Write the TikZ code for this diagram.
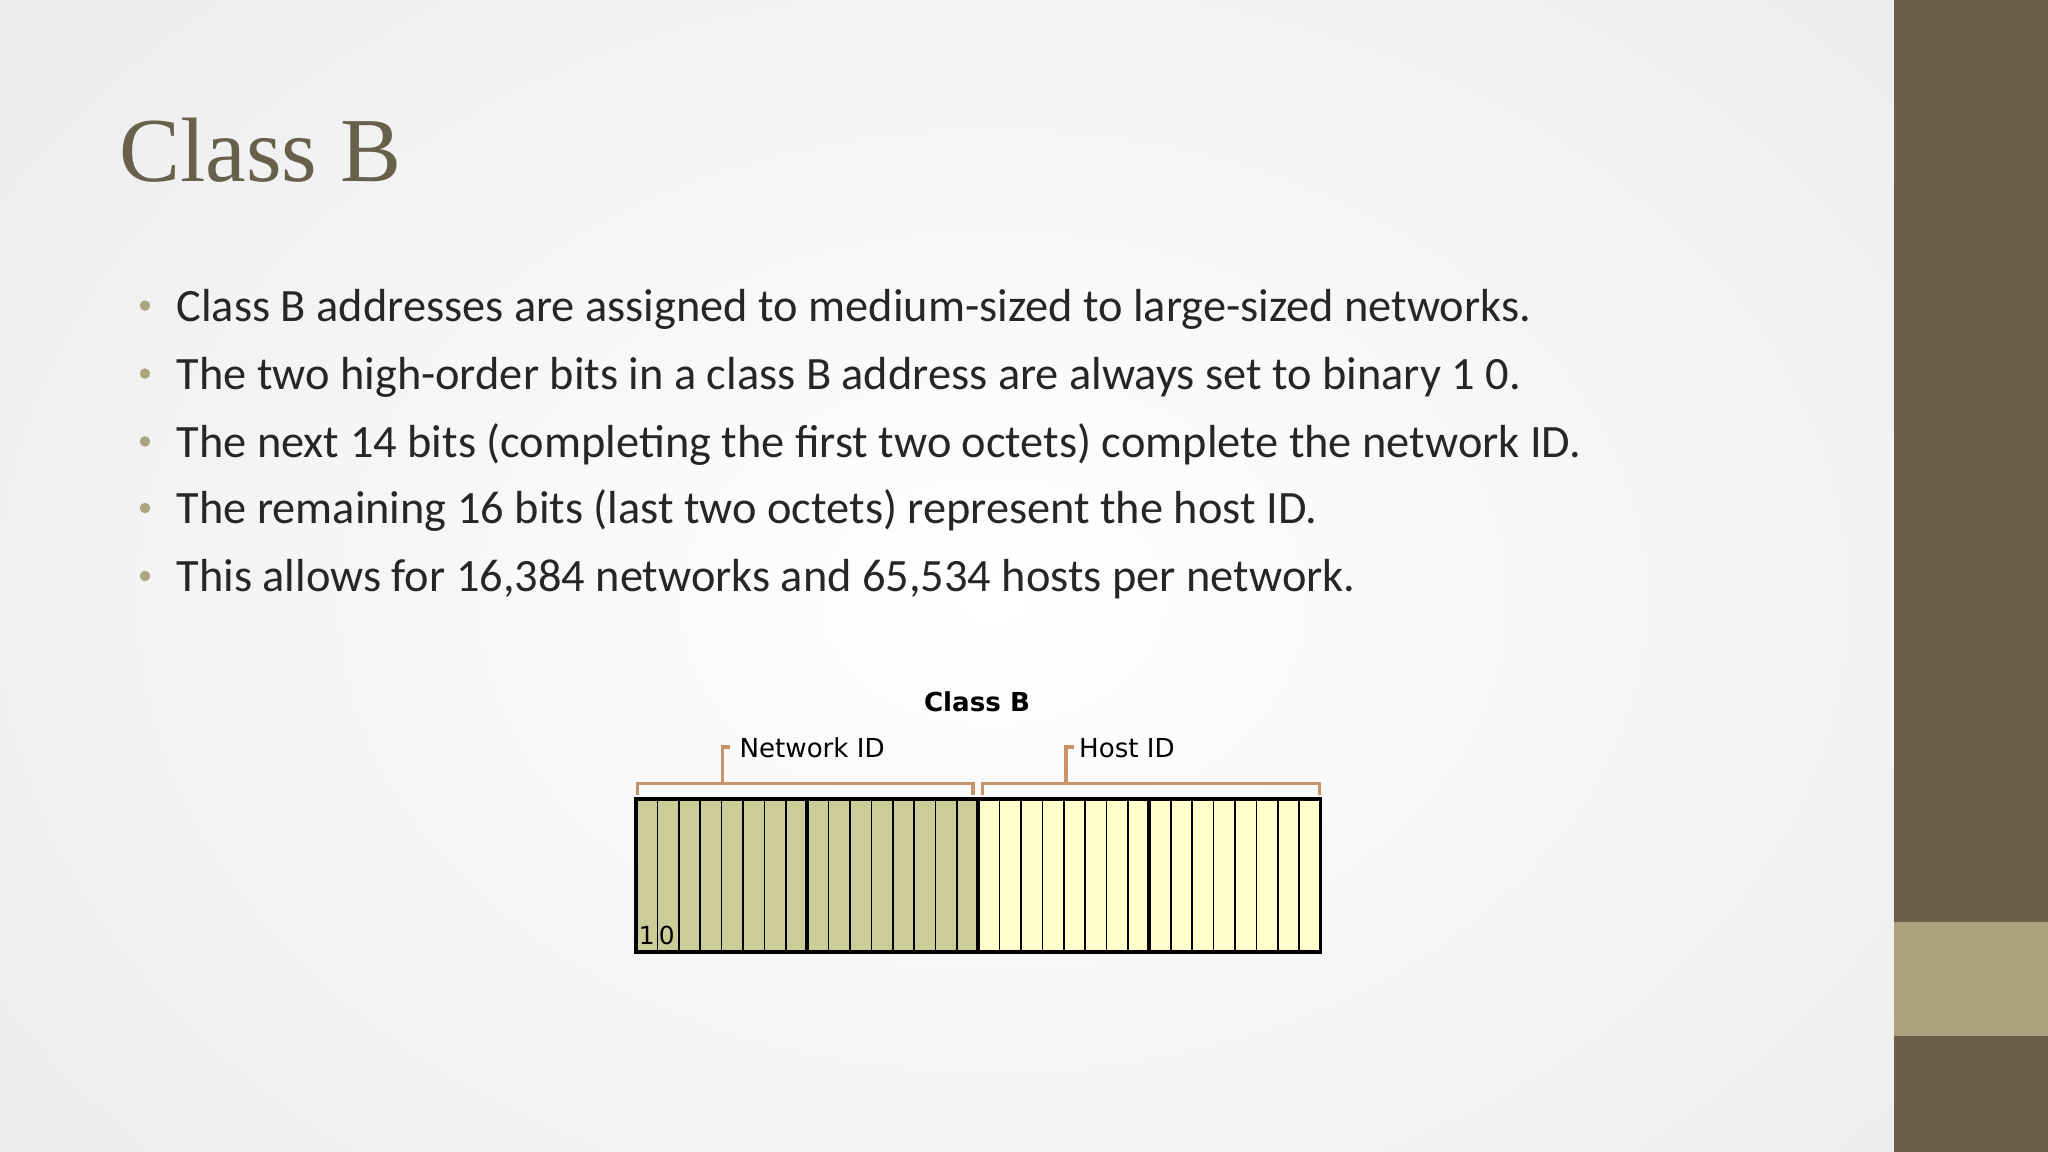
\documentclass[tikz,border=0pt]{standalone}
\usepackage{fontspec}
\setmainfont{Carlito}
\newfontfamily\titlefont{Liberation Serif}
\newfontfamily\diagfont{DejaVu Sans}
\begin{document}
\begin{tikzpicture}[x=1pt,y=-1pt,
  bullet/.style={anchor=base west,font=\fontsize{35.5}{35.5}\selectfont,text=black!85,inner sep=0},
  dot/.style={circle,fill=bulletc,inner sep=0,minimum size=8},
  lbl/.style={font=\diagfont\fontsize{20}{20}\selectfont,inner sep=0,anchor=base west},
  brk/.style={draw=brackc,line width=2.6pt}]
\definecolor{barc}{HTML}{6B5E47}
\definecolor{barl}{HTML}{ABA37D}
\definecolor{titlec}{HTML}{67604A}
\definecolor{bulletc}{HTML}{A9A57E}
\definecolor{brackc}{HTML}{C8956A}
\definecolor{netc}{HTML}{CCCC99}
\definecolor{hostc}{HTML}{FFFFCC}
\definecolor{bgc}{HTML}{ECECEC}
\useasboundingbox (0,0) rectangle (1568,882);
\fill[bgc] (0,0) rectangle (1450,882);
\begin{scope}
\clip (0,0) rectangle (1450,882);
\shade[inner color=white,outer color=bgc] (760,460) ellipse (1000 and 720);
\end{scope}
\fill[barc] (1450,0) rectangle (1568,882);
\fill[barl] (1450,706) rectangle (1568,793);
\node[anchor=base west,inner sep=0,font=\titlefont\fontsize{70}{70}\selectfont,text=titlec] (title) at (91,139) {Class B};
\foreach \y/\t [count=\i] in {246/Class B addresses are assigned to medium-sized to large-sized networks.,
  298/The two high-order bits in a class B address are always set to binary 1 0.,
  350/The next 14 bits (completing the first two octets) complete the network ID.,
  401/The remaining 16 bits (last two octets) represent the host ID.,
  453/{This allows for 16,384 networks and 65,534 hosts per network.}}{
  \node[dot] (d\i) at (111,\y-12) {};
  \node[bullet] (b\i) at (135,\y) {\t};
}
% diagram
\fill[netc] (487,612) rectangle (748,729);
\fill[hostc] (748,612) rectangle (1011,729);
\foreach \k in {1,...,31}{
  \draw[line width=1.2pt] ({487+\k*524/32},612) -- ({487+\k*524/32},729);
}
\draw[line width=3pt] (617.5,612) -- (617.5,729);
\draw[line width=3pt] (879.5,612) -- (879.5,729);
\draw[line width=3pt] (748.5,612) -- (748.5,729);
\draw[line width=3pt] (487,612) rectangle (1011,729);
\node[font=\diagfont\bfseries\fontsize{20}{20}\selectfont,inner sep=0] (cls) at (748,537) {Class B};
\draw[brk] (488,609) -- (488,600) -- (745,600) -- (745,609);
\draw[brk] (553,600) -- (553,572) -- (559,572);
\draw[brk] (752,609) -- (752,600) -- (1010,600) -- (1010,609);
\draw[brk] (816,600) -- (816,572) -- (822,572);
\node[lbl] (net) at (566,580) {Network ID};
\node[lbl] (host) at (826,580) {Host ID};
\node[lbl,font=\diagfont\fontsize{19}{19}\selectfont] (bits) at (489,723) {1\,0};
\end{tikzpicture}
\end{document}
